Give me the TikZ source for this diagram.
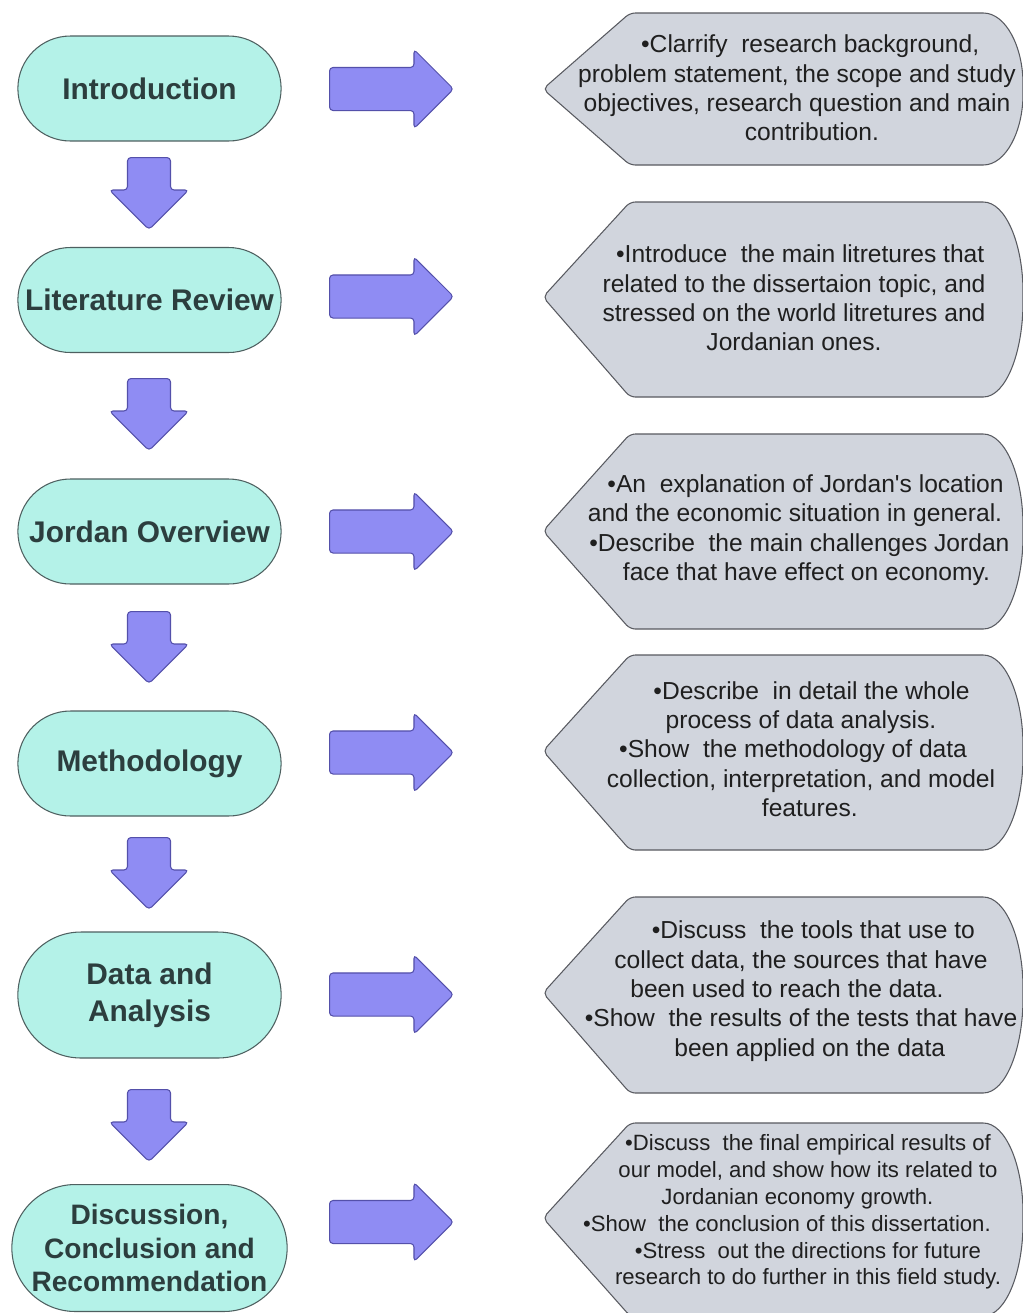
\documentclass[tikz,border=0pt]{standalone}
\usepackage{fontspec}
\setmainfont{Liberation Sans}
\usepackage{xcolor}
\usetikzlibrary{shapes.misc,shapes.arrows}
\definecolor{pillfill}{RGB}{180,242,232}
\definecolor{pillline}{RGB}{78,96,96}
\definecolor{titletext}{RGB}{44,62,62}
\definecolor{boxfill}{RGB}{209,213,221}
\definecolor{boxline}{RGB}{88,90,96}
\definecolor{arrfill}{RGB}{143,140,243}
\definecolor{arrline}{RGB}{84,80,170}
\tikzset{
  pill/.style={rounded rectangle,draw=pillline,fill=pillfill,line width=0.6pt,minimum width=5.5cm,minimum height=2.1cm,
    align=center,text=titletext,font=\fontsize{17}{21}\selectfont\bfseries},
  infobox/.style={draw=boxline,fill=boxfill,line width=0.6pt,rounded corners=3pt},
  infotext/.style={align=center,text=black!88,inner sep=0pt,font=\fontsize{14}{16.7}\selectfont},
  rarr/.style={single arrow,draw=arrline,fill=arrfill,line width=0.6pt,rounded corners=2pt,anchor=tail,
    minimum height=2.48cm,single arrow head extend=0.36cm,inner xsep=0pt,inner ysep=0.42cm},
  darr/.style={rarr,rotate=-90,minimum height=1.44cm},
}
% #1 top, #2 bottom, #3 middle (all in px)
\newcommand{\infoshape}[3]{%
  \draw[infobox] (630,#1) -- (978,#1) .. controls (1006,#1) and (1023,{#3-0.55*(#3-#1)}) .. (1023,#3)
    .. controls (1023,{#3+0.55*(#2-#3)}) and (1006,#2) .. (978,#2) -- (630,#2) -- (543,#3) -- cycle;}
\newcommand{\pre}[1]{\hspace*{#1pt}}
\newcommand{\post}[1]{\hspace*{#1pt}\mbox{}}

\begin{document}
\begin{tikzpicture}[x=0.02cm,y=-0.02cm]
  \fill[white] (0,0) rectangle (1023,1313);
  \useasboundingbox (0,0) rectangle (1023,1313);

  % left column
  \node[pill] (intro) at (149.5,88.5) {Introduction};
  \node[pill] (litrev) at (149.5,300) {Literature Review};
  \node[pill] (jordan) at (149.5,531.5) {Jordan Overview};
  \node[pill] (method) at (149.5,763.5) {Methodology};
  \node[pill,minimum height=2.52cm] (data) at (149.5,995) {Data and\\Analysis};
  \node[pill,minimum height=2.54cm,inner xsep=1pt,font=\fontsize{16}{19.3}\selectfont\bfseries] (disc) at (149.5,1248)
       {Discussion,\\Conclusion and\\Recommendation};

  \foreach \t/\n in {157/d1,378/d2,611/d3,837/d4,1089/d5}
     \node[darr] (\n) at (149,\t) {};

  % right arrows
  \node[rarr] (r1) at (329,89) {};
  \node[rarr] (r2) at (329,296.5) {};
  \node[rarr] (r3) at (329,531.5) {};
  \node[rarr] (r4) at (329,752.5) {};
  \node[rarr] (r5) at (329,994.5) {};
  \node[rarr] (r6) at (329,1222) {};

  % right column
  \infoshape{13}{165}{89}
  \node[infotext] (info1) at (797,88) {\pre{15}•Clarrify\ \ research background,\\problem statement, the scope and study\\
       objectives, research question and main\\\pre{17}contribution.};
  \infoshape{202}{397}{297}
  \node[infotext] (info2) at (794,298) {\pre{7}•Introduce\ \ the main litretures that\\related to the dissertaion topic, and\\
       stressed on the world litretures and\\Jordanian ones.};
  \infoshape{434}{629}{531}
  \node[infotext] (info3) at (795,530) {\pre{12}•An\ \ explanation of Jordan\textquotesingle s location\\and the economic situation in general.\\
       \pre{5}•Describe\ \ the main challenges Jordan\\\pre{13}face that have effect on economy.};
  \infoshape{655}{850}{751}
  \node[infotext] (info4) at (801,749) {\pre{12}•Describe\ \ in detail the whole\\process of data analysis.\\
       •Show\ \ the methodology of data\post{9}\\collection, interpretation, and model\\\pre{10}features.};
  \infoshape{897}{1093}{993}
  \node[infotext] (info5) at (801,991) {\pre{14}•Discuss\ \ the tools that use to\\collect data, the sources that have\\
       been used to reach the data.\post{16}\\•Show\ \ the results of the tests that have\\\pre{10}been applied on the data};
  \infoshape{1123}{1316}{1218}
  \node[infotext,font=\fontsize{12.6}{15.3}\selectfont] (info6) at (808,1212) {•Discuss\ \ the final empirical results of\\
       our model, and show how its related to\\Jordanian economy growth.\post{12}\\•Show\ \ the conclusion of this dissertation.\post{24}\\
       •Stress\ \ out the directions for future\\research to do further in this field study.};
\end{tikzpicture}
\end{document}
